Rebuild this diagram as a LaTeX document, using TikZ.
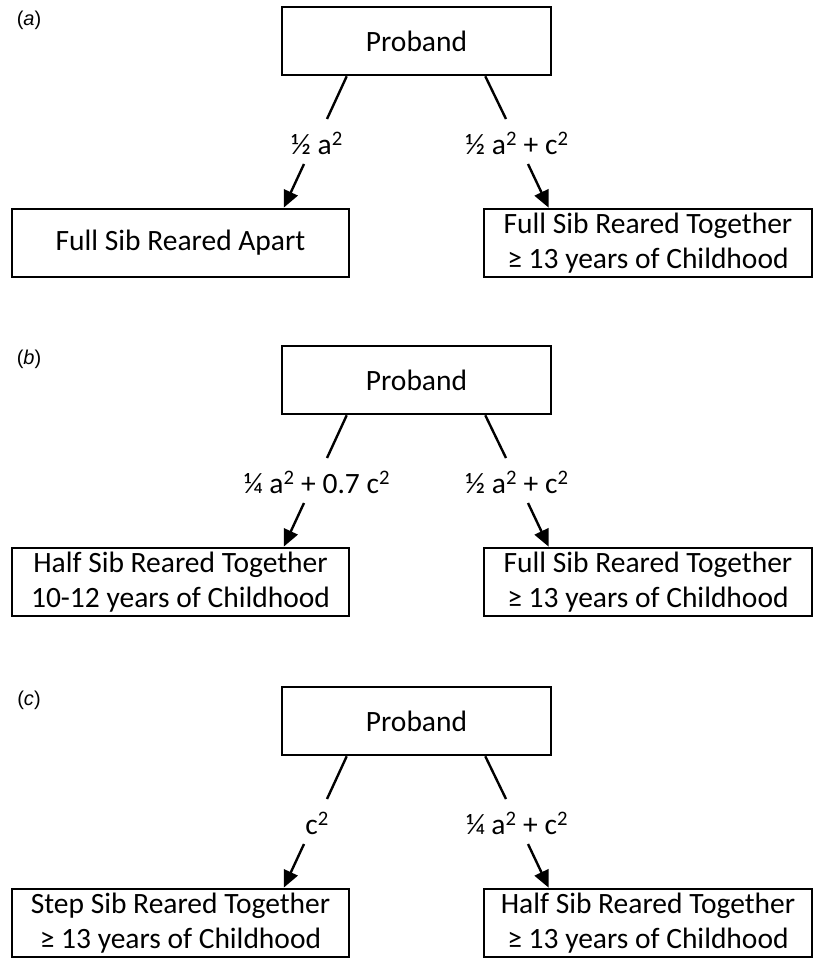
\documentclass[tikz,border=0pt]{standalone}
\usepackage{fontspec}
\setmainfont{Carlito}
\newfontfamily\panelfont{Liberation Sans}
\usetikzlibrary{arrows.meta,calc}
\tikzset{
  box/.style={draw=black, line width=2.6pt, inner sep=0pt, align=center,
    font=\fontsize{29.5}{35}\selectfont, minimum height=68pt},
  lbl/.style={inner sep=0pt, font=\fontsize{29.5}{35}\selectfont},
  plabel/.style={inner sep=0pt, font=\panelfont\fontsize{20}{24}\selectfont},
  conn/.style={line width=2.4pt},
  arr/.style={line width=2.4pt, -{Triangle[length=17pt,width=15pt]}},
}
\newcommand\drawpanel[7]{%
\begin{scope}[yshift=-#1pt]
  \node[plabel] (lab#7) at (29,20) {(\textit{#2})};
  \node[box, minimum width=269pt] (p#7) at (416.5,41) {Proband};
  \node[lbl] (ll#7) at (317,143) {#3};
  \node[lbl] (rl#7) at (517,143) {#4};
  \node[box, minimum width=337pt] (lc#7) at (180.5,243) {#5};
  \node[box, minimum width=328pt] (rc#7) at (648,243) {#6};
  \coordinate (le#7) at (327,119);
  \coordinate (ls#7) at (304,164);
  \coordinate (re#7) at (506,119);
  \coordinate (rs#7) at (528,164);
  \draw[conn] ($(p#7.south west)+(66,0)$) -- (le#7);
  \draw[arr] (ls#7) -- ($(lc#7.north west)+(273,0)$);
  \draw[conn] ($(p#7.south east)+(-67,0)$) -- (re#7);
  \draw[arr] (rs#7) -- ($(rc#7.north west)+(66,0)$);
\end{scope}}
\begin{document}
\begin{tikzpicture}[x=1pt,y=-1pt]
\useasboundingbox (0,0) rectangle (814,958);
\drawpanel{0}{a}{½ a\textsuperscript{2}}{½ a\textsuperscript{2} + c\textsuperscript{2}}{Full Sib Reared Apart}{Full Sib Reared Together\\≥ 13 years of Childhood}{A}
\drawpanel{339}{b}{¼ a\textsuperscript{2} + 0.7 c\textsuperscript{2}}{½ a\textsuperscript{2} + c\textsuperscript{2}}{Half Sib Reared Together\\10-12 years of Childhood}{Full Sib Reared Together\\≥ 13 years of Childhood}{B}
\drawpanel{680}{c}{c\textsuperscript{2}}{¼ a\textsuperscript{2} + c\textsuperscript{2}}{Step Sib Reared Together\\≥ 13 years of Childhood}{Half Sib Reared Together\\≥ 13 years of Childhood}{C}
\end{tikzpicture}
\end{document}
